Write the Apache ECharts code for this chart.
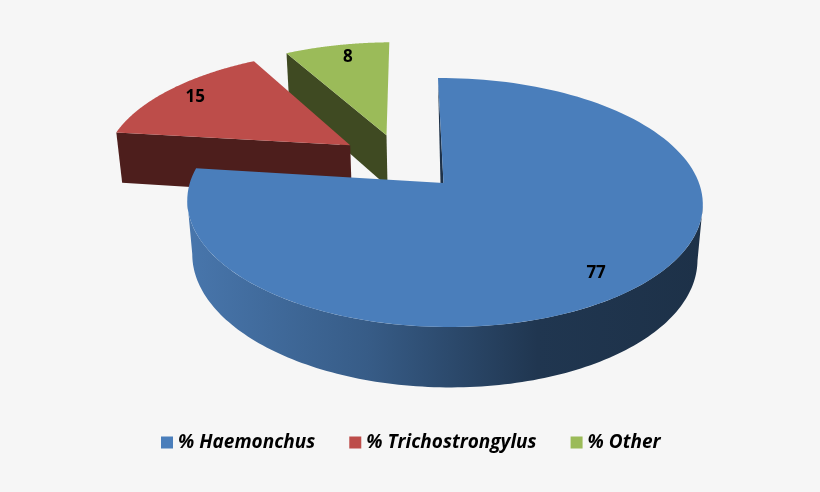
<!DOCTYPE html>
<html><head><meta charset="utf-8">
<style>html,body{margin:0;padding:0;background:#f6f6f6}#c{width:820px;height:492px}</style>
<script src="https://cdn.jsdelivr.net/npm/echarts@6/dist/echarts.min.js"></script>
</head><body><div id="c"></div>
<script>
var categories = ['% Haemonchus', '% Trichostrongylus', '% Other'];
var values = [77, 15, 8];
var topColors = ['#4a7ebb', '#bd4d4a', '#9bbb59'];

var total = values.reduce(function (a, b) { return a + b; }, 0);
var view = {cx: 441, cy: 183, b: 258.4, a: 121.4, k: 0.157, m: 0.0135, shear: 3.5, H: 55, d: 0.02};
var explode = [[0, 0], [-0.371, 0.329], [-0.226, 0.421]];
var widthScale = [0.985, 1, 1];
var apexShift = [2.5, 1, 1.5];
var labelR = 0.85;
var labelShift = [2.6, 0, 1.5];
var wallColors = [null, '#4d1e1c', '#3f4a22'];

function project(u, v, bottom) {
  var w = 1 + view.k * v - view.m * u + (bottom ? view.d : 0);
  return [view.cx + (view.b * u - view.shear * v) / w,
          view.cy + (-view.a * v + (bottom ? view.H : 0)) / w];
}
function pt(i, theta, r, bottom) {
  return project(explode[i][0] + widthScale[i] * r * Math.sin(theta),
                 explode[i][1] + r * Math.cos(theta), bottom);
}
function apex(i, bottom) {
  var p = pt(i, 0, 0, bottom);
  return [p[0] + apexShift[i], p[1]];
}
function arc(i, t0, t1, bottom) {
  var pts = [], n = 140;
  for (var j = 0; j <= n; j++) pts.push(pt(i, t0 + (t1 - t0) * j / n, 1, bottom));
  return pts;
}
function startOf(i) {
  var s = 0;
  for (var j = 0; j < i; j++) s += values[j];
  return s / total * Math.PI * 2;
}
// angles at which the rim reaches its rightmost and leftmost screen position
function tangents(i) {
  var best = [0, 0], hi = -Infinity, lo = Infinity;
  for (var d = 0; d < 360; d += 0.5) {
    var x = pt(i, d * Math.PI / 180, 1, false)[0];
    if (x > hi) { hi = x; best[0] = d * Math.PI / 180; }
    if (x < lo) { lo = x; best[1] = d * Math.PI / 180; }
  }
  return best;
}

function makeRender(i) {
  return function (params, api) {
    var t0 = startOf(i), t1 = t0 + api.value(0) / total * Math.PI * 2, children = [];
    if (i === 0) {
      var tg = tangents(0);
      var wall = arc(0, tg[0], tg[1], false).concat(arc(0, tg[0], tg[1], true).reverse());
      children.push({type: 'polygon', shape: {points: wall}, style: {
        fill: new echarts.graphic.LinearGradient(0, 0, 1, 0, [
          {offset: 0, color: '#4876ac'}, {offset: 0.35, color: '#375c87'},
          {offset: 0.68, color: '#203650'}, {offset: 1, color: '#1d3148'}])
      }});
      var a = pt(0, 0, 1, false), c = apex(0, false);
      children.push({type: 'polygon', shape: {points: [a, [c[0], c[1]], [c[0] - 3, c[1]]]},
        style: {fill: '#1d3148'}});
    } else {
      var p1 = pt(i, t0, 1, false), p2 = apex(i, false), p3 = apex(i, true), p4 = pt(i, t0, 1, true);
      children.push({type: 'polygon', shape: {points: [p1, p2, p3, p4]}, style: {fill: wallColors[i]}});
    }
    var top = arc(i, t0, t1, false);
    top.push(apex(i, false));
    children.push({type: 'polygon', shape: {points: top}, style: {fill: topColors[i]}});
    var lp = pt(i, (t0 + t1) / 2 + labelShift[i] * Math.PI / 180, labelR, false);
    children.push({type: 'text', z2: 10, style: {
      x: lp[0], y: lp[1], text: String(api.value(0)), align: 'center', verticalAlign: 'middle',
      fill: '#000', font: 'bold 17px "Open Sans"'}});
    return {type: 'group', children: children};
  };
}

var chart = echarts.init(document.getElementById('c'), null, {renderer: 'canvas'});
chart.setOption({
  animation: false,
  backgroundColor: '#f6f6f6',
  legend: {
    data: categories, left: 156, top: 428, itemWidth: 12, itemHeight: 12, itemGap: 34,
    icon: 'rect', selectedMode: false,
    textStyle: {fontFamily: 'Open Sans', fontStyle: 'italic', fontWeight: 'bold', fontSize: 19, color: '#000'}
  },
  series: categories.map(function (name, i) {
    return {
      type: 'custom', name: name, coordinateSystem: 'none', silent: true,
      z: [3, 2, 1][i], data: [[values[i]]], renderItem: makeRender(i),
      itemStyle: {color: topColors[i]}
    };
  })
});
</script></body></html>
